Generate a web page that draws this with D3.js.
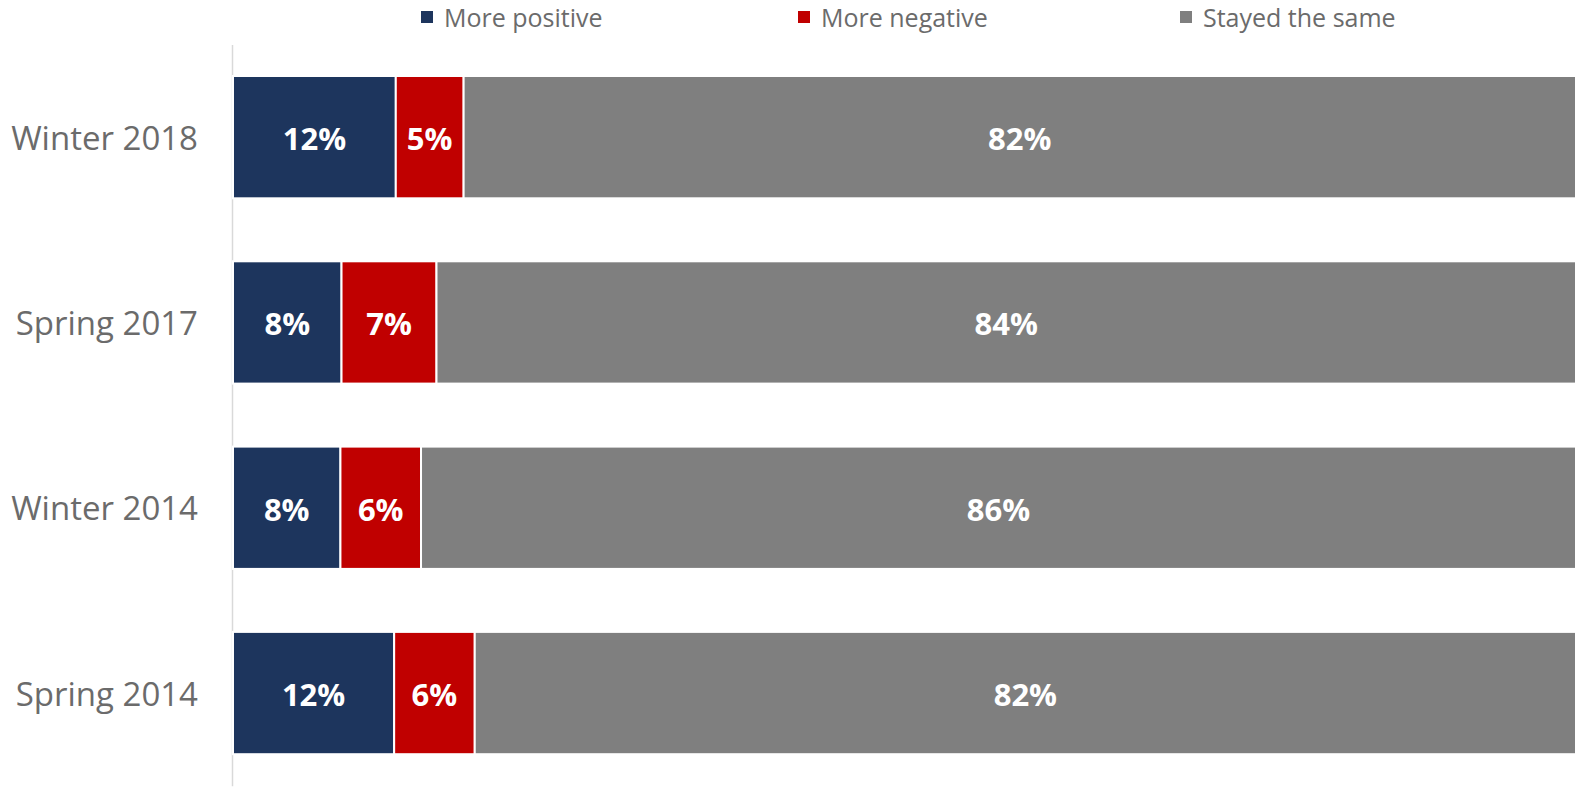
<!DOCTYPE html>
<html>
<head>
<meta charset="utf-8">
<script src="https://cdn.jsdelivr.net/npm/d3@7"></script>
<style>
  html, body { margin: 0; padding: 0; background: #fff; }
  svg { display: block; font-family: "Open Sans", sans-serif; }
</style>
</head>
<body>
<div id="chart"></div>
<script>
const categories = ["Winter 2018", "Spring 2017", "Winter 2014", "Spring 2014"]
const seriesNames = ["More positive", "More negative", "Stayed the same"]
const morePositive = [12, 8, 8, 12]
const moreNegative = [5, 7, 6, 6]
const stayedSame = [82, 84, 86, 82]
const colors = ["#1d355d", "#c00000", "#7f7f7f"]

const width = 1575
const height = 789

const rows = categories.map((c, i) => {
    const vals = [morePositive[i], moreNegative[i], stayedSame[i]]
    const total = d3.sum(vals)
    // 100% stacked: each row fills the full width
    return { category: c, vals: vals, share: vals.map(v => v / total * 100) }
})

const svg = d3.select("#chart")
    .append("svg")
    .attr("width", width)
    .attr("height", height)

const xScale = d3.scaleLinear()
    .domain([0, 100])
    .range([233, 1576])

const yScale = d3.scaleBand()
    .domain(categories)
    .range([44.5, 785.7])
    .paddingInner(0.34)
    .paddingOuter(0.17)

// category axis line + labels
const yAxis = d3.axisLeft(yScale).tickSize(0).tickPadding(34)
const yg = svg.append("g")
    .attr("transform", `translate(232,0)`)
    .call(yAxis)
yg.select(".domain").attr("stroke", "#d9d9d9").attr("stroke-width", 1.5)
yg.selectAll("text")
    .attr("font-family", "Open Sans, sans-serif")
    .attr("font-size", 33)
    .attr("dy", "0.38em")
    .attr("fill", "#6b6b6b")

const barGroup = svg.append("g")
rows.forEach(r => {
    let acc = 0
    r.share.forEach((s, j) => {
        const x0 = acc
        acc += s
        barGroup.append("rect")
            .attr("x", xScale(x0))
            .attr("y", yScale(r.category))
            .attr("width", xScale(acc) - xScale(x0))
            .attr("height", yScale.bandwidth())
            .attr("fill", colors[j])
            .attr("stroke", "#fff")
            .attr("stroke-width", 2)
        barGroup.append("text")
            .attr("x", (xScale(x0) + xScale(acc)) / 2)
            .attr("y", yScale(r.category) + yScale.bandwidth() / 2)
            .attr("dy", "0.42em")
            .attr("text-anchor", "middle")
            .attr("font-size", 31)
            .attr("font-weight", "bold")
            .attr("fill", "#fff")
            .text(r.vals[j] + "%")
    })
})

// legend
const legendX = [421, 798, 1180]
const legend = svg.append("g")
seriesNames.forEach((name, i) => {
    legend.append("rect")
        .attr("x", legendX[i])
        .attr("y", 11)
        .attr("width", 12)
        .attr("height", 12)
        .attr("fill", colors[i])
    legend.append("text")
        .attr("x", legendX[i] + 23)
        .attr("y", 17.5)
        .attr("dy", "0.36em")
        .attr("font-size", 25)
        .attr("fill", "#6b6b6b")
        .text(name)
})
</script>
</body>
</html>
